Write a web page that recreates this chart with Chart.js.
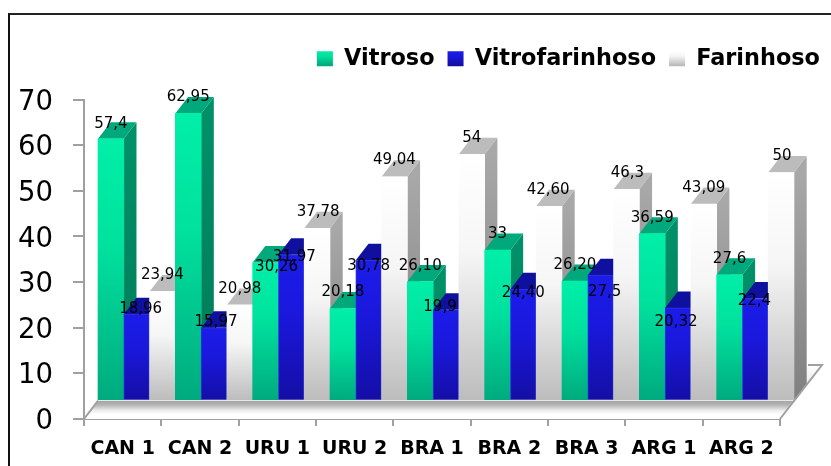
<!DOCTYPE html>
<html>
<head>
<meta charset="utf-8">
<title>Vitroso, Vitrofarinhoso, Farinhoso</title>
<script src="https://cdn.jsdelivr.net/npm/chart.js@4"></script>
<style>
  html, body { margin: 0; padding: 0; background: #fff; overflow: hidden; }
  #frame { position: absolute; left: 8px; top: 13px; right: 0; bottom: 0; border-left: 2px solid #111; border-top: 2px solid #222; }
  #chart { position: absolute; left: 0; top: 0; }
</style>
</head>
<body>
<div id="frame"></div>
<canvas id="chart" width="831" height="466"></canvas>
<script>
const categories = ["CAN 1", "CAN 2", "URU 1", "URU 2", "BRA 1", "BRA 2", "BRA 3", "ARG 1", "ARG 2"];
const seriesNames = ["Vitroso", "Vitrofarinhoso", "Farinhoso"];

const vitroso = [57.4, 62.95, 30.26, 20.18, 26.1, 33, 26.2, 36.59, 27.6];
const vitrofarinhoso = [18.96, 15.97, 31.97, 30.78, 19.9, 24.4, 27.5, 20.32, 22.4];
const farinhoso = [23.94, 20.98, 37.78, 49.04, 54, 42.6, 46.3, 43.09, 50];

// os rótulos não têm formato uniforme no original
const vitrosoLabels = ["57,4", "62,95", "30,26", "20,18", "26,10", "33", "26,20", "36,59", "27,6"];
const vitrofarinhosoLabels = ["18,96", "15,97", "31,97", "30,78", "19,9", "24,40", "27,5", "20,32", "22,4"];
const farinhosoLabels = ["23,94", "20,98", "37,78", "49,04", "54", "42,60", "46,3", "43,09", "50"];

// deslocamento do centro do rótulo em relação ao topo da face frontal [dx, dy]
const vitrosoNudge = [[0, -16], [0, -17], [11, 4], [0, -17], [0, -16], [0, -17], [0, -17], [0, -17], [0, -17]];
const vitrofarinhosoNudge = [[4, -6], [2, -7], [3, 1], [0, 5], [-6, -4], [0, 3], [4, 16], [-2, 13], [-1, 2]];
const farinhosoNudge = [[0, -17], [0, -17], [1, -17], [0, -18], [0, -17], [-1, -17], [1, -17], [0, -17], [1, -17]];

const allLabels = [vitrosoLabels, vitrofarinhosoLabels, farinhosoLabels];
const allNudges = [vitrosoNudge, vitrofarinhosoNudge, farinhosoNudge];

// cores: frente (topo, meio, base), tampa, lateral (topo, base)
const palette = [
  { front: ["#00efa8", "#00e29e", "#00aa7e"], cap: "#00a97c", side: ["#009068", "#007a58"] },
  { front: ["#1c1cea", "#1a18dc", "#140ea4"], cap: "#10109e", side: ["#10109e", "#100c88"] },
  { front: ["#ffffff", "#f6f6f6", "#bcbcbc"], cap: "#bcbcbc", side: ["#a8a8a8", "#808080"] }
];

// deslocamento das barras em relação aos eixos, e profundidade
const shiftX = 14;
const shiftY = -18.3;
const depthX = 12.7;
const depthY = -16.5;

function vGradient(ctx, top, bottom, stops) {
  const g = ctx.createLinearGradient(0, top, 0, bottom);
  if (stops.length === 3) {
    g.addColorStop(0, stops[0]);
    g.addColorStop(0.4, stops[1]);
    g.addColorStop(1, stops[2]);
  } else {
    g.addColorStop(0, stops[0]);
    g.addColorStop(1, stops[1]);
  }
  return g;
}

function frontColor(s) {
  return (context) => {
    const chart = context.chart;
    const y = chart.scales.y;
    if (!y || context.raw === undefined) return palette[s].front[1];
    return vGradient(chart.ctx, y.getPixelForValue(context.raw), y.getPixelForValue(0), palette[s].front);
  };
}

function poly(ctx, pts, fill) {
  ctx.beginPath();
  ctx.moveTo(pts[0][0], pts[0][1]);
  for (let i = 1; i < pts.length; i++) ctx.lineTo(pts[i][0], pts[i][1]);
  ctx.closePath();
  ctx.fillStyle = fill;
  ctx.fill();
}

function drawFloor(chart) {
  const ctx = chart.ctx;
  const x = chart.scales.x;
  const y0 = chart.scales.y.getPixelForValue(0);
  const l = x.left, r = x.right;
  const backY = y0 - 54;

  const g = ctx.createLinearGradient(0, backY, 0, y0);
  g.addColorStop(0, "#ffffff");
  g.addColorStop(0.45, "#e4e4e4");
  g.addColorStop(0.66, "#a4a4a4");
  g.addColorStop(0.74, "#b4b4b4");
  g.addColorStop(0.84, "#ececec");
  g.addColorStop(0.92, "#ffffff");
  g.addColorStop(1, "#ffffff");
  poly(ctx, [[l, y0], [r, y0], [r + 42, backY], [r + 28, backY], [r + 14, y0 + shiftY], [l + shiftX, y0 + shiftY]], g);

  ctx.strokeStyle = "#a0a0a0";
  ctx.lineWidth = 2;
  ctx.beginPath();
  ctx.moveTo(l, y0);
  ctx.lineTo(l + shiftX, y0 + shiftY);
  ctx.moveTo(r, y0);
  ctx.lineTo(r + 42, backY);
  ctx.lineTo(r + 28, backY);
  ctx.stroke();
}

const bars3d = {
  id: "bars3d",
  beforeInit(chart) {
    // espaço entre a legenda e a área do gráfico
    const fit = chart.legend.fit;
    chart.legend.fit = function () {
      fit.call(this);
      this.height = 65;
    };
  },
  beforeDatasetsDraw(chart) {
    const ctx = chart.ctx;
    drawFloor(chart);

    ctx.save();
    ctx.translate(shiftX, shiftY);
    // as barras têm de ser pintadas da esquerda para a direita
    categories.forEach((c, i) => {
      chart.data.datasets.forEach((ds, s) => {
        const el = chart.getDatasetMeta(s).data[i];
        const p = el.getProps(["x", "y", "base", "width"], true);
        const left = p.x - p.width / 2;
        const right = p.x + p.width / 2;
        poly(ctx, [[right, p.y], [right + depthX, p.y + depthY], [right + depthX, p.base + depthY], [right, p.base]],
          vGradient(ctx, p.y, p.base, palette[s].side));
        poly(ctx, [[left, p.y], [left + depthX, p.y + depthY], [right + depthX, p.y + depthY], [right, p.y]], palette[s].cap);
        el.draw(ctx, chart.chartArea);
      });
    });
    ctx.restore();

    // rótulos por cima de tudo
    ctx.save();
    ctx.font = "15px 'DejaVu Sans'";
    ctx.fillStyle = "#000";
    ctx.textAlign = "center";
    ctx.textBaseline = "middle";
    chart.data.datasets.forEach((ds, s) => {
      chart.getDatasetMeta(s).data.forEach((el, i) => {
        const p = el.getProps(["x", "y"], true);
        ctx.fillText(allLabels[s][i], p.x + shiftX + allNudges[s][i][0], p.y + shiftY + allNudges[s][i][1] + 1);
      });
    });
    ctx.restore();
    return false;
  }
};

const swatchTop = 50;
const swatchBottom = 65;
const canvas = document.getElementById("chart");

new Chart(canvas, {
  type: "bar",
  data: {
    labels: categories,
    datasets: [
      { label: seriesNames[0], data: vitroso, backgroundColor: frontColor(0) },
      { label: seriesNames[1], data: vitrofarinhoso, backgroundColor: frontColor(1), borderColor: "#3030e4", borderWidth: 1 },
      { label: seriesNames[2], data: farinhoso, backgroundColor: frontColor(2) }
    ]
  },
  options: {
    responsive: false,
    animation: false,
    layout: { padding: { top: 34.5, right: -2, left: 0, bottom: 0 } },
    datasets: { bar: { barPercentage: 1, categoryPercentage: 1 } },
    scales: {
      x: {
        offset: true,
        grid: { offset: true, drawOnChartArea: false, color: "#a0a0a0", lineWidth: 2, tickLength: 7 },
        border: { color: "#a0a0a0", width: 2 },
        ticks: {
          color: "#000",
          padding: 12,
          maxRotation: 0,
          autoSkip: false,
          font: { family: "'DejaVu Sans'", size: 19, weight: "bold" }
        },
        afterFit(scale) { scale.height = 47; }
      },
      y: {
        min: 0,
        max: 70,
        grid: { drawOnChartArea: false, color: "#a0a0a0", lineWidth: 2, tickLength: 11 },
        border: { color: "#a0a0a0", width: 2 },
        ticks: {
          stepSize: 10,
          color: "#000",
          padding: 20,
          labelOffset: 3,
          font: { family: "'DejaVu Sans'", size: 27.5 }
        },
        afterFit(scale) { scale.width = 84; }
      },
      // só para reservar a margem à direita, a legenda passa além do eixo
      spacer: {
        position: "right",
        grid: { display: false },
        border: { display: false },
        ticks: { display: false },
        afterFit(scale) { scale.width = 53; }
      }
    },
    plugins: {
      tooltip: { enabled: false },
      legend: {
        position: "top",
        align: "end",
        labels: {
          boxWidth: 16,
          boxHeight: 15,
          padding: 13,
          color: "#000",
          font: { family: "'DejaVu Sans'", size: 22.4, weight: "bold" },
          generateLabels(chart) {
            return seriesNames.map((name, s) => ({
              text: name,
              fontColor: "#000",
              lineWidth: 0,
              strokeStyle: "transparent",
              datasetIndex: s,
              fillStyle: vGradient(chart.ctx, swatchTop, swatchBottom, palette[s].front)
            }));
          }
        }
      }
    }
  },
  plugins: [bars3d]
});
</script>
</body>
</html>
